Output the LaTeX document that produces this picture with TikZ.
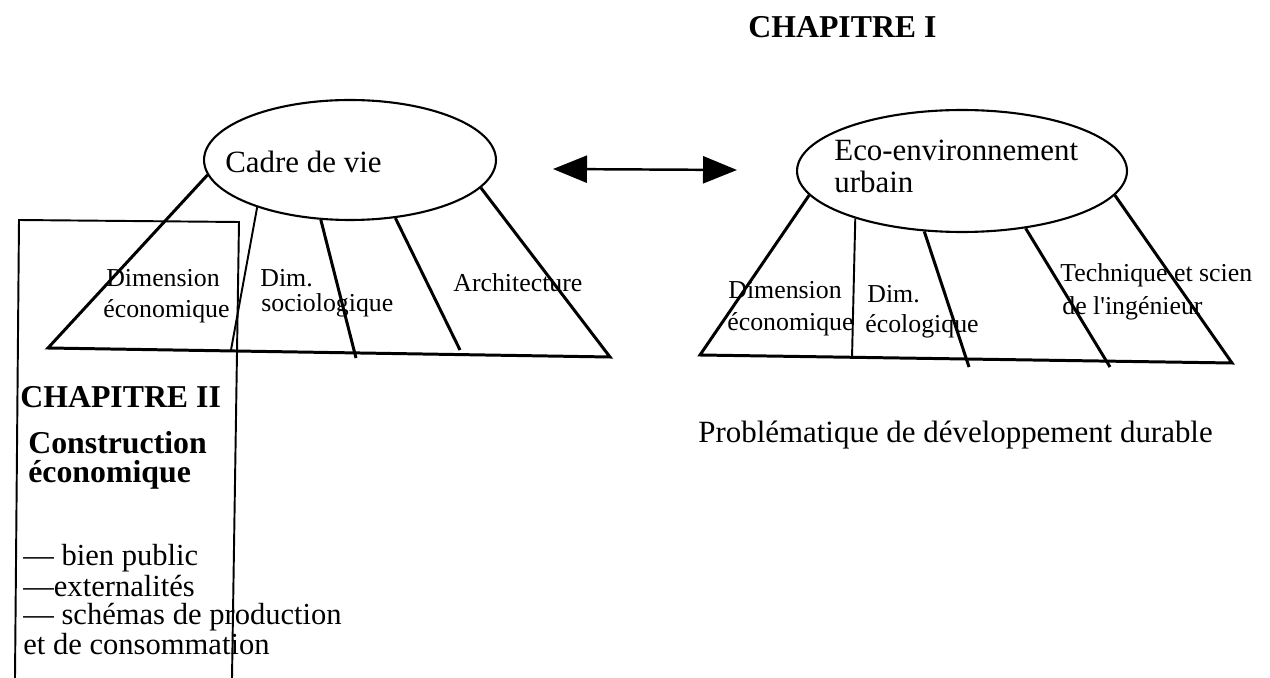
\documentclass[tikz,border=0pt]{standalone}
\usepackage{fontspec}
\setmainfont{Liberation Serif}
\usetikzlibrary{shapes.geometric,arrows.meta}
\newcommand\lblfont{\fontsize{14.7pt}{17.6pt}\selectfont}
\newcommand\ellfont{\fontsize{17.6pt}{18.1pt}\selectfont}
\newcommand\chapfont{\fontsize{18.1pt}{18pt}\selectfont\bfseries}
\newcommand\listfont{\fontsize{17.4pt}{16.4pt}\selectfont}
\tikzset{
  ell/.style={draw,ellipse,line width=1.2pt,inner sep=0pt},
  trait/.style={line width=1.7pt},
  fin/.style={line width=1.1pt},
  txt/.style={inner sep=0pt,anchor=base west},
  tete/.tip={Triangle[length=0.68cm,width=0.54cm]}
}
\begin{document}
\begin{tikzpicture}[x=0.02cm,y=-0.02cm]
  \useasboundingbox (0,0) rectangle (1270,678);
  %titre
  \node[txt,font=\chapfont] (chapI) at (748,38) {CHAPITRE I};
  %ellipses
  \node[ell,minimum width=5.84cm,minimum height=2.4cm] (cadre) at (350,160) {};
  \node[txt,font=\ellfont] (cadreT) at (225,173) {Cadre de vie};
  \node[ell,minimum width=6.6cm,minimum height=2.44cm] (eco) at (962,171) {};
  \node[txt,font=\ellfont] (ecoT1) at (834,161) {Eco-environnement};
  \node[txt,font=\ellfont] (ecoT2) at (834,193) {urbain};
  %fleche
  \coordinate (arrL) at (553,169);
  \coordinate (arrR) at (737,170);
  \draw[line width=1.4pt,tete-tete] (arrL) -- (arrR);
  %trapeze gauche
  \coordinate (g1) at (48,348);
  \coordinate (g2) at (231,350);
  \coordinate (g3) at (356,358);
  \coordinate (g4) at (460,350);
  \coordinate (g5) at (610,357);
  \draw[trait] (cadre.186) -- (g1) -- (g5) -- (cadre.348.5);
  \draw[fin] (cadre.207.5) -- (g2);
  \draw[trait] (cadre.244) -- (g3);
  \draw[trait] (cadre.308) -- (g4);
  %trapeze droit
  \coordinate (d1) at (700,355);
  \coordinate (d2) at (852,358);
  \coordinate (d3) at (969,367);
  \coordinate (d4) at (1110,367);
  \coordinate (d5) at (1232,363);
  \draw[trait] (eco.189.1) -- (d1) -- (d5) -- (eco.351.2);
  \draw[fin] (eco.204.9) -- (d2);
  \draw[trait] (eco.238.6) -- (d3);
  \draw[trait] (eco.318.8) -- (d4);
  %etiquettes
  \foreach \n/\x/\y/\t in {gA/106/287/Dimension, gB/103/318/économique,
      gC/260/287/Dim., gD/261/312/sociologique, gE/453/292/Architecture,
      dA/728/299/Dimension, dB/727/331/économique, dC/867/303/Dim.,
      dD/865/333/écologique, dE/1060/282/Technique et scien,
      dF/1062/315/de l\textquotesingle ingénieur}
    \node[txt,font=\lblfont] (\n) at (\x,\y) {\t};
  %cadre chapitre II
  \coordinate (bx1) at (15,678);
  \coordinate (bx2) at (19,220);
  \coordinate (bx3) at (239,222);
  \coordinate (bx4) at (232,678);
  \draw[fin] (bx1) -- (bx2) -- (bx3) -- (bx4);
  \node[txt,font=\chapfont] (chapII) at (20,408) {CHAPITRE II};
  \node[txt,font=\chapfont] (constr1) at (28,453) {Construction};
  \node[txt,font=\chapfont] (constr2) at (28,482) {économique};
  \foreach \n/\y/\t in {l1/565/— bien public, l2/596/—externalités,
      l3/624/— schémas de production, l4/654/et de consommation}
    \node[txt,font=\listfont] (\n) at (23,\y) {\t};
  %problematique
  \node[txt,font=\ellfont] (probl) at (698,442) {Problématique de développement durable};
\end{tikzpicture}
\end{document}
